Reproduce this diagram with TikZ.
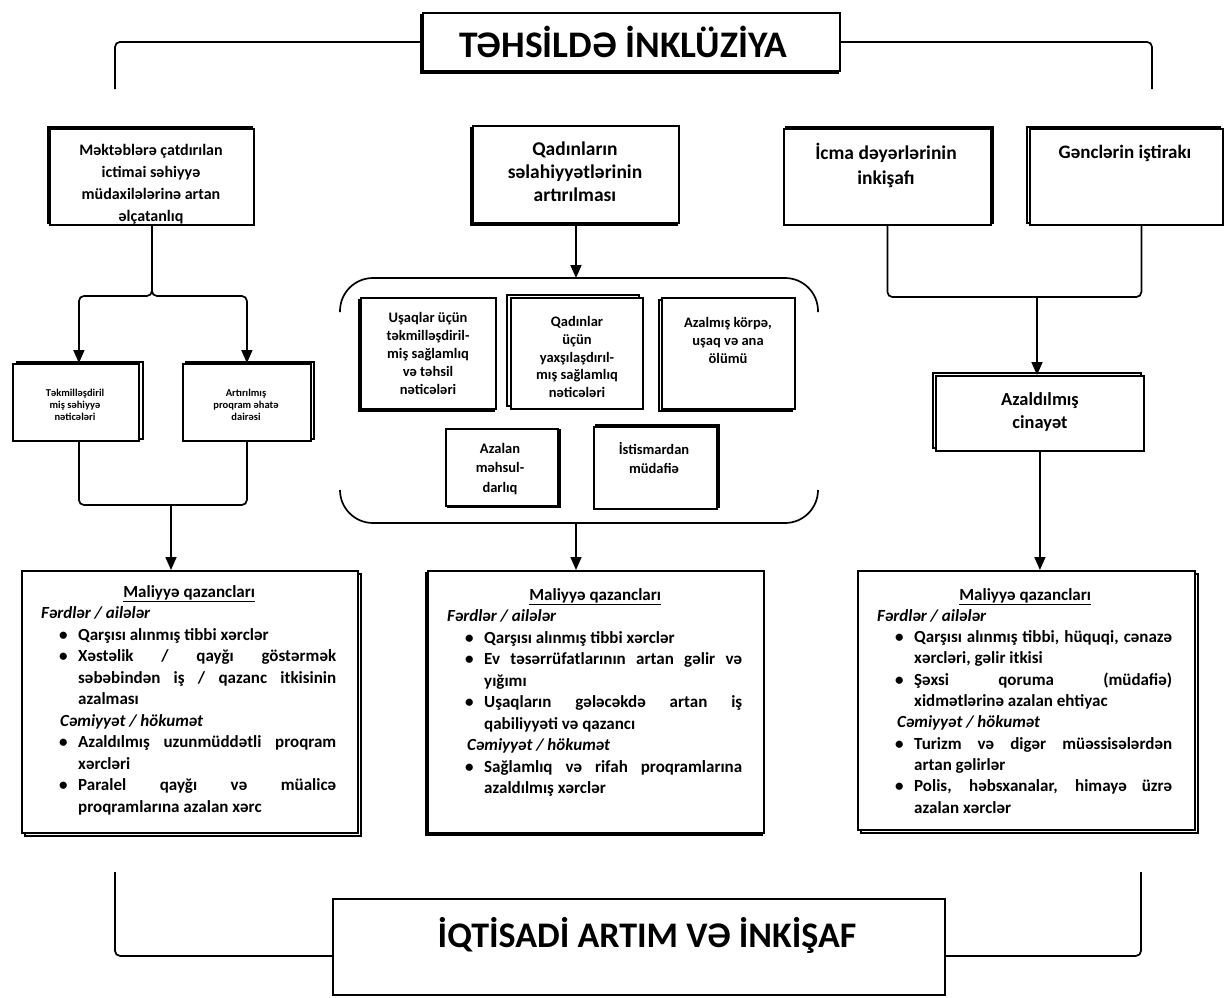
\documentclass[tikz,border=0pt]{standalone}
\usepackage{fontspec}
\setmainfont{Carlito}
\usetikzlibrary{arrows.meta,shadows,calc}

% line helpers for the three "Maliyyə qazancları" panels
\newlength\finw
\setlength\finw{258pt}
\newcommand\finhead[1]{\makebox[336pt][c]{\underline{#1}}\par}
\newcommand\fingroup[2]{\hspace*{#1pt}\textit{#2}\par}
\newcommand\finjust[1]{\hspace*{38pt}\makebox[19pt][l]{\textbullet}\makebox[\finw][s]{#1}\par}
\newcommand\finlast[1]{\hspace*{38pt}\makebox[19pt][l]{\textbullet}#1\par}
\newcommand\finmore[1]{\hspace*{57pt}\makebox[\finw][s]{#1}\par}
\newcommand\finend[1]{\hspace*{57pt}#1\par}

\tikzset{
  box/.style={draw, line width=1.8pt, fill=white, inner sep=0pt, anchor=north west},
  shd/.style 2 args={general shadow={shadow xshift=#1pt, shadow yshift=#2pt, fill=white, draw=black, line width=1.2pt}},
  lbl/.style 2 args={inner sep=0pt, align=center, font=\fontsize{#1}{#2}\selectfont\bfseries},
  conn/.style={line width=1.7pt, rounded corners=5pt},
  arr/.style={conn, -{Triangle[length=13pt,width=11pt]}},
}

\begin{document}
\begin{tikzpicture}[x=1pt,y=-1pt]
\useasboundingbox (0,0) rectangle (1224,997);

% ---------- title ----------
\node[box, shd={-2}{-2}, minimum width=417pt, minimum height=58pt] (title) at (422,12) {};
\node[lbl={37.5}{42}, anchor=base] (titleT) at (623,57) {TƏHSİLDƏ İNKLÜZİYA};
\coordinate (tl) at (115,89);
\coordinate (tr) at (1152,89);
\draw[conn] (title.west) -| (tl);
\draw[conn] (title.east) -| (tr);

% ---------- top row ----------
\node[box, shd={-2}{2}, minimum width=204pt, minimum height=96pt] (b1) at (49,128) {};
\node[lbl={16}{22}] (b1t) at (151,184) {Məktəblərə çatdırılan\\ictimai səhiyyə\\müdaxilələrinə artan\\əlçatanlıq};

\node[box, shd={-2}{-2}, minimum width=206pt, minimum height=97pt] (b2) at (472,125) {};
\node[lbl={19.5}{23}] (b2t) at (575,172) {Qadınların\\səlahiyyətlərinin\\artırılması};

\node[box, shd={2}{2}, minimum width=207pt, minimum height=96pt] (b3) at (783,128) {};
\node[lbl={19.5}{25}] (b3t) at (886,165) {İcma dəyərlərinin\\inkişafı};

\node[box, shd={-3}{2}, minimum width=193pt, minimum height=96pt] (b4) at (1029,128) {};
\node[lbl={19}{23}] (b4t) at (1125,153) {Gənclərin iştirakı};

% ---------- left column ----------
\node[box, shd={4}{2}, minimum width=126pt, minimum height=77pt] (subL) at (12,363) {};
\node[lbl={10.5}{12}] (subLt) at (75,405) {Təkmilləşdiril\\miş səhiyyə\\nəticələri};
\node[box, shd={3}{2}, minimum width=128pt, minimum height=77pt] (subR) at (182,363) {};
\node[lbl={10.5}{12}] (subRt) at (246,405) {Artırılmış\\proqram əhatə\\dairəsi};

\draw[arr] (b1.south) |- ($(subL.north)+(3,-67)$) -- ($(subL.north)+(3,0)$);
\draw[arr] (b1.south) |- ($(subR.north)+(0,-67)$) -- (subR.north);
\coordinate (jL) at (171,505);
\draw[conn] ($(subL.south)+(3,0)$) |- (jL);
\draw[conn] (subR.south) |- (jL);

% ---------- middle column ----------
\coordinate (gtop) at (576,278);
\coordinate (gbot) at (576,523);
\draw[conn, rounded corners=33pt] (340,312) -- (340,278) -- (818,278) -- (818,312);
\draw[conn, rounded corners=33pt] (340,490) -- (340,523) -- (818,523) -- (818,490);
\draw[arr] (b2.south) -- (gtop);

\node[box, shd={-2}{-2}, minimum width=135pt, minimum height=111pt] (in1) at (360,297) {};
\node[lbl={14.5}{18}] (in1t) at (428,353) {Uşaqlar üçün\\təkmilləşdiril-\\miş sağlamlıq\\və təhsil\\nəticələri};
\node[box, shd={-4}{3}, minimum width=132pt, minimum height=111pt] (in2) at (510,297) {};
\node[lbl={14.5}{17.75}] (in2t) at (577,357) {Qadınlar\\üçün\\yaxşılaşdırıl-\\mış sağlamlıq\\nəticələri};
\node[box, shd={-3}{-2}, minimum width=133pt, minimum height=111pt] (in3) at (661,297) {};
\node[lbl={14.5}{18}] (in3t) at (728,340) {Azalmış körpə,\\uşaq və ana\\ölümü};
\node[box, shd={2}{-1}, minimum width=112pt, minimum height=77pt] (in4) at (445,428) {};
\node[lbl={14.5}{19.5}] (in4t) at (500,469) {Azalan\\məhsul-\\darlıq};
\node[box, shd={2}{2}, minimum width=123pt, minimum height=82pt] (in5) at (593,426) {};
\node[lbl={14.5}{19.5}] (in5t) at (654,458) {İstismardan\\müdafiə};

% ---------- right column ----------
\coordinate (jR) at (1037,297);
\draw[conn] (b3.south) |- (jR);
\draw[conn] ([xshift=15pt]b4.south) |- (jR);
\node[box, shd={-3}{3}, minimum width=208pt, minimum height=75pt] (crime) at (935,375) {};
\node[lbl={18.4}{23}] (crimet) at (1040,412) {Azaldılmış\\cinayət};
\draw[arr] (jR) -- (jR |- crime.north);

% ---------- financial gains ----------
\node[box, shd={3}{-3}, minimum width=336pt, minimum height=262pt] (finL) at (21,570) {};
\node[box, shd={-2}{-2}, minimum width=336pt, minimum height=262pt] (finM) at (427,570) {};
\node[box, shd={3}{-3}, minimum width=337pt, minimum height=259pt] (finR) at (857,570) {};

\draw[arr] (jL) -- (jL |- finL.north);
\draw[arr] (gbot) -- (gbot |- finM.north);
\draw[arr] (crime.south) -- (crime.south |- finR.north);

\node[anchor=base west, inner sep=0pt, font=\fontsize{17}{21.5}\selectfont\bfseries] (finLt) at (21,597) {%
\begin{minipage}[t]{336pt}
\finhead{Maliyyə qazancları}
\fingroup{20}{Fərdlər / ailələr}
\finlast{Qarşısı alınmış tibbi xərclər}
\finjust{Xəstəlik / qayğı göstərmək}
\finmore{səbəbindən iş / qazanc itkisinin}
\finend{azalması}
\fingroup{39}{Cəmiyyət / hökumət}
\finjust{Azaldılmış uzunmüddətli proqram}
\finend{xərcləri}
\finjust{Paralel qayğı və müalicə}
\finend{proqramlarına azalan xərc}
\end{minipage}};

\node[anchor=base west, inner sep=0pt, font=\fontsize{17}{21.5}\selectfont\bfseries] (finMt) at (427,600) {%
\begin{minipage}[t]{336pt}
\finhead{Maliyyə qazancları}
\fingroup{20}{Fərdlər / ailələr}
\finlast{Qarşısı alınmış tibbi xərclər}
\finjust{Ev təsərrüfatlarının artan gəlir və}
\finend{yığımı}
\finjust{Uşaqların gələcəkdə artan iş}
\finend{qabiliyyəti və qazancı}
\fingroup{40}{Cəmiyyət / hökumət}
\finjust{Sağlamlıq və rifah proqramlarına}
\finend{azaldılmış xərclər}
\end{minipage}};

\node[anchor=base west, inner sep=0pt, font=\fontsize{17}{21.3}\selectfont\bfseries] (finRt) at (857,600) {%
\begin{minipage}[t]{337pt}
\finhead{Maliyyə qazancları}
\fingroup{20}{Fərdlər / ailələr}
\finjust{Qarşısı alınmış tibbi, hüquqi, cənazə}
\finend{xərcləri, gəlir itkisi}
\finjust{Şəxsi qoruma (müdafiə)}
\finend{xidmətlərinə azalan ehtiyac}
\fingroup{40}{Cəmiyyət / hökumət}
\finjust{Turizm və digər müəssisələrdən}
\finend{artan gəlirlər}
\finjust{Polis, həbsxanalar, himayə üzrə}
\finend{azalan xərclər}
\end{minipage}};

% ---------- bottom ----------
\node[box, minimum width=612pt, minimum height=96pt] (bottom) at (332,898) {};
\node[lbl={36}{40}, anchor=base] (bottomt) at (647,947) {İQTİSADİ ARTIM VƏ İNKİŞAF};
\coordinate (bl) at (115,872);
\coordinate (br) at (1141,872);
\draw[conn] (bl) |- ([yshift=-9pt]bottom.west);
\draw[conn] (br) |- ([yshift=-9pt]bottom.east);

\end{tikzpicture}
\end{document}
